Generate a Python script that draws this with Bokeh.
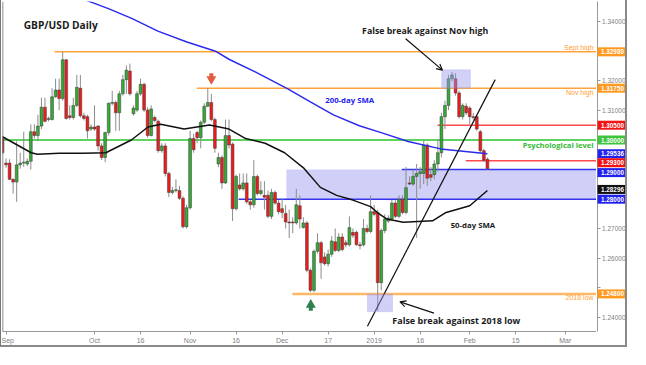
from bokeh.plotting import figure
from bokeh.layouts import row
from bokeh.models import (ColumnDataSource, Label, Span, Arrow, OpenHead, FixedTicker,
                          BoxAnnotation, Range1d, PrintfTickFormatter)
from bokeh.core.properties import value
from bokeh.embed import file_html
from bokeh.resources import INLINE

# ---------------- data (GBP/USD daily candles) ----------------
opens = [1.3005, 1.2922, 1.2922, 1.2867, 1.2858, 1.2916, 1.2922, 1.2919, 1.2928, 1.3028,
         1.3015, 1.3047, 1.3111, 1.3069, 1.3069, 1.3146, 1.3169, 1.3140, 1.3271, 1.3082,
         1.3076, 1.3117, 1.3175, 1.3082, 1.3079, 1.3037, 1.3044, 1.3047, 1.2980, 1.2941,
         1.3025, 1.3124, 1.3127, 1.3092, 1.3156, 1.3204, 1.3233, 1.3089, 1.3101, 1.3156,
         1.3188, 1.3101, 1.3015, 1.3076, 1.3063, 1.2964, 1.2980, 1.2887, 1.2823, 1.2829,
         1.2829, 1.2803, 1.2707, 1.2771, 1.3005, 1.3025, 1.3008, 1.3060, 1.3114, 1.3127,
         1.3069, 1.2919, 1.2941, 1.2855, 1.3015, 1.2986, 1.2768, 1.2848, 1.2835, 1.2855,
         1.2791, 1.2781, 1.2877, 1.2819, 1.2813, 1.2813, 1.2742, 1.2823, 1.2787, 1.2768,
         1.2752, 1.2723, 1.2723, 1.2720, 1.2778, 1.2704, 1.2720, 1.2560, 1.2492, 1.2624,
         1.2653, 1.2605, 1.2582, 1.2614, 1.2656, 1.2627, 1.2672, 1.2653, 1.2646, 1.2688,
         1.2688, 1.2646, 1.2646, 1.2701, 1.2691, 1.2758, 1.2755, 1.2518, 1.2694, 1.2726,
         1.2733, 1.2787, 1.2742, 1.2800, 1.2755, 1.2855, 1.2851, 1.2877, 1.2887, 1.2887,
         1.2983, 1.2883, 1.2883, 1.2919, 1.2957, 1.3079, 1.3117, 1.3207, 1.3207, 1.3159,
         1.3079, 1.3114, 1.3108, 1.3079, 1.3079, 1.3028, 1.2964, 1.2935]
highs = [1.3015, 1.2938, 1.2935, 1.2871, 1.2996, 1.2957, 1.3028, 1.2938, 1.3053, 1.3053,
         1.3085, 1.3143, 1.3143, 1.3079, 1.3175, 1.3207, 1.3207, 1.3298, 1.3274, 1.3117,
         1.3143, 1.3220, 1.3220, 1.3092, 1.3085, 1.3053, 1.3117, 1.3050, 1.2989, 1.3028,
         1.3127, 1.3166, 1.3133, 1.3166, 1.3220, 1.3252, 1.3258, 1.3117, 1.3166, 1.3207,
         1.3194, 1.3111, 1.3117, 1.3082, 1.3069, 1.2989, 1.2989, 1.2893, 1.2842, 1.2867,
         1.2845, 1.2810, 1.2781, 1.3031, 1.3021, 1.3031, 1.3066, 1.3124, 1.3175, 1.3156,
         1.3076, 1.2957, 1.2948, 1.3069, 1.3069, 1.2992, 1.2883, 1.2887, 1.2887, 1.2887,
         1.2797, 1.2932, 1.2883, 1.2861, 1.2861, 1.2829, 1.2835, 1.2829, 1.2797, 1.2803,
         1.2781, 1.2765, 1.2739, 1.2835, 1.2813, 1.2739, 1.2726, 1.2566, 1.2630, 1.2685,
         1.2659, 1.2621, 1.2630, 1.2675, 1.2701, 1.2685, 1.2685, 1.2662, 1.2742, 1.2701,
         1.2694, 1.2656, 1.2733, 1.2714, 1.2813, 1.2781, 1.2765, 1.2701, 1.2749, 1.2746,
         1.2797, 1.2797, 1.2813, 1.2813, 1.2909, 1.2877, 1.2900, 1.2919, 1.2909, 1.2999,
         1.2989, 1.2909, 1.2932, 1.3002, 1.3092, 1.3133, 1.3220, 1.3230, 1.3226, 1.3166,
         1.3124, 1.3124, 1.3114, 1.3092, 1.3085, 1.3034, 1.2970, 1.2941]
lows = [1.2951, 1.2906, 1.2864, 1.2819, 1.2791, 1.2903, 1.2909, 1.2912, 1.2900, 1.3005,
        1.2996, 1.3037, 1.3060, 1.3063, 1.3066, 1.3143, 1.3101, 1.3133, 1.3069, 1.3069,
        1.3069, 1.3111, 1.3076, 1.3066, 1.3005, 1.3031, 1.3031, 1.2964, 1.2932, 1.2925,
        1.3015, 1.3117, 1.3031, 1.3031, 1.3150, 1.3156, 1.3150, 1.3082, 1.3095, 1.3150,
        1.3095, 1.3008, 1.3012, 1.3060, 1.2957, 1.2957, 1.2877, 1.2807, 1.2816, 1.2823,
        1.2797, 1.2701, 1.2701, 1.2765, 1.2957, 1.2989, 1.2972, 1.3053, 1.3111, 1.3063,
        1.2957, 1.2909, 1.2835, 1.2851, 1.2972, 1.2726, 1.2762, 1.2829, 1.2829, 1.2784,
        1.2765, 1.2771, 1.2813, 1.2813, 1.2765, 1.2736, 1.2733, 1.2781, 1.2749, 1.2736,
        1.2701, 1.2669, 1.2685, 1.2714, 1.2701, 1.2701, 1.2553, 1.2486, 1.2486, 1.2617,
        1.2531, 1.2576, 1.2573, 1.2605, 1.2621, 1.2621, 1.2624, 1.2637, 1.2640, 1.2669,
        1.2643, 1.2630, 1.2640, 1.2685, 1.2685, 1.2742, 1.2422, 1.2492, 1.2685, 1.2720,
        1.2726, 1.2736, 1.2736, 1.2749, 1.2749, 1.2848, 1.2845, 1.2669, 1.2835, 1.2851,
        1.2845, 1.2861, 1.2867, 1.2893, 1.2941, 1.3037, 1.3101, 1.3198, 1.3150, 1.3073,
        1.3069, 1.3085, 1.3053, 1.3069, 1.3031, 1.2957, 1.2925, 1.2900]
closes = [1.2957, 1.2916, 1.2867, 1.2858, 1.2916, 1.2922, 1.2925, 1.2928, 1.3028, 1.3015,
          1.3047, 1.3111, 1.3063, 1.3073, 1.3146, 1.3169, 1.3140, 1.3271, 1.3073, 1.3076,
          1.3117, 1.3178, 1.3082, 1.3073, 1.3031, 1.3044, 1.3037, 1.2980, 1.2941, 1.3025,
          1.3124, 1.3127, 1.3092, 1.3156, 1.3204, 1.3236, 1.3156, 1.3108, 1.3156, 1.3188,
          1.3101, 1.3015, 1.3105, 1.3066, 1.2964, 1.2980, 1.2887, 1.2823, 1.2829, 1.2832,
          1.2803, 1.2707, 1.2771, 1.3005, 1.2967, 1.3008, 1.3060, 1.3114, 1.3127, 1.3069,
          1.2972, 1.2941, 1.2855, 1.3015, 1.2983, 1.2768, 1.2877, 1.2835, 1.2855, 1.2791,
          1.2781, 1.2877, 1.2819, 1.2829, 1.2807, 1.2742, 1.2823, 1.2787, 1.2758, 1.2755,
          1.2723, 1.2720, 1.2720, 1.2781, 1.2733, 1.2720, 1.2560, 1.2492, 1.2624, 1.2653,
          1.2585, 1.2582, 1.2614, 1.2659, 1.2627, 1.2672, 1.2630, 1.2646, 1.2704, 1.2678,
          1.2646, 1.2643, 1.2701, 1.2691, 1.2758, 1.2749, 1.2518, 1.2694, 1.2733, 1.2736,
          1.2787, 1.2742, 1.2800, 1.2755, 1.2839, 1.2851, 1.2877, 1.2887, 1.2893, 1.2983,
          1.2871, 1.2874, 1.2919, 1.2957, 1.3079, 1.3117, 1.3207, 1.3220, 1.3159, 1.3079,
          1.3117, 1.3092, 1.3079, 1.3076, 1.3037, 1.2964, 1.2932, 1.2903]

sma200_idx = [20, 24.1, 30.1, 36.5, 43.9, 52.1, 60.4, 64.1, 71.4, 80.6, 87.1, 93.5,
              100.8, 107.2, 114.6, 123.8, 137]
sma200_val = [1.3490, 1.3470, 1.3443, 1.3411, 1.3368, 1.3331, 1.3299, 1.3272, 1.3230,
              1.3173, 1.3128, 1.3085, 1.3048, 1.3024, 1.2995, 1.2970, 1.29536]
sma50_idx = [0, 8.1, 9.9, 16.0, 22.7, 29.2, 36.4, 41.1, 44.7, 51.3, 58.5, 64.0, 68.7,
             74.2, 79.7, 85.2, 89.8, 94.4, 99.0, 104.0, 105.9, 108.6, 113.2, 121.5,
             125.1, 132.0, 137]
sma50_val = [1.3011, 1.2957, 1.2952, 1.2955, 1.2955, 1.2957, 1.3000, 1.3044, 1.3053,
             1.3037, 1.3051, 1.3037, 1.3005, 1.2989, 1.2957, 1.2904, 1.2840, 1.2813,
             1.2797, 1.2775, 1.2755, 1.2733, 1.2722, 1.2727, 1.2754, 1.2778, 1.28296]

trend_idx = [103.1, 139.2]
trend_val = [1.2371, 1.3204]

level_prices = [1.32980, 1.31750, 1.30500, 1.30000, 1.29536, 1.29300, 1.29000, 1.28296, 1.28000, 1.24800]
level_colors = ["#ff9a1f", "#ff9a1f", "#f21414", "#3ec43e", "#2222ee", "#f21414", "#2222ee", "#111111", "#2222ee", "#ff9a1f"]

x_tick_idx = [1, 26, 39, 53, 66, 79, 92, 105, 118, 132, 145, 159]
x_tick_labels = ["Sep", "Oct", "16", "Nov", "16", "Dec", "17", "2019", "16", "Feb", "15", "Mar"]
y_ticks = [1.24, 1.25, 1.26, 1.27, 1.28, 1.29, 1.30, 1.31, 1.32, 1.33, 1.34]
y_hidden = [1.25, 1.28, 1.29, 1.30, 1.33]   # tick labels covered by the level boxes

X_END = 168.1
Y_LO, Y_HI = 1.2353, 1.3468
FRAME_H = 330
yr = Range1d(Y_LO, Y_HI)

# ---------------- main chart ----------------
p = figure(width=596, height=FRAME_H + 17, x_range=Range1d(0, X_END), y_range=yr,
           output_backend="svg", toolbar_location=None, y_axis_location=None,
           min_border_left=1, min_border_top=1, min_border_right=0, min_border_bottom=16,
           background_fill_color="white", border_fill_color="white", outline_line_color=None,
           styles={"border-left": "1px solid #777777", "border-bottom": "2px solid #8a8a8a"})
p.grid.visible = False

p.xaxis.ticker = FixedTicker(ticks=x_tick_idx)
p.xaxis.major_label_overrides = {t: s for t, s in zip(x_tick_idx, x_tick_labels)}
p.xaxis.major_label_text_font = "Liberation Sans"
p.xaxis.major_label_text_font_size = "7px"
p.xaxis.major_label_text_color = "#808080"
p.xaxis.axis_line_color = "#999999"
p.xaxis.major_tick_line_color = "#999999"
p.xaxis.major_tick_out = 3
p.xaxis.major_tick_in = 0
p.xaxis.minor_tick_line_color = None
p.xaxis.major_label_standoff = 2

p.add_layout(Span(location=0, dimension="height", line_color="#666666", line_width=1.5))

p.add_layout(BoxAnnotation(left=80.2, bottom=1.28, top=1.29, fill_color="#cfcff8", fill_alpha=1.0,
                           line_color=None, level="underlay"))

seg_x0 = [14.7, 54.9, 122.9, 0, 130.9, 112.8, 66.7, 81.9]
seg_y = [1.32980, 1.31750, 1.30500, 1.30000, 1.29300, 1.29000, 1.28000, 1.24800]
seg_col = ["#ffa33a", "#ffa33a", "#ff4a4a", "#5fd35f", "#ff4a4a", "#3535f0", "#3535f0", "#ffb866"]
seg_w = [1.4, 1.4, 1.5, 2.0, 1.5, 1.5, 1.5, 2.5]
p.segment(x0=seg_x0, y0=seg_y, x1=[X_END] * len(seg_y), y1=seg_y, line_color=seg_col, line_width=seg_w)

idx = list(range(len(opens)))
up = [c >= o for o, c in zip(opens, closes)]
src = ColumnDataSource(dict(
    x=idx, high=highs, low=lows,
    top=[max(o, c) for o, c in zip(opens, closes)],
    bottom=[min(o, c) for o, c in zip(opens, closes)],
    color=["#36a936" if u else "#ec1c1c" for u in up]))
p.segment(x0="x", y0="low", x1="x", y1="high", source=src, line_color="#8c8c8c", line_width=1)
p.vbar(x="x", width=0.8, top="top", bottom="bottom", source=src, fill_color="color",
       line_color="#3a3a3a", line_width=0.5)

p.line(sma200_idx, sma200_val, line_color="#2b2bee", line_width=1.5)
p.line(sma50_idx, sma50_val, line_color="#111111", line_width=1.5)
p.line(trend_idx, trend_val, line_color="#111111", line_width=1.2)

p.add_layout(BoxAnnotation(left=124.1, right=132.2, bottom=1.3175, top=1.3237,
                           fill_color="#9a9aee", fill_alpha=0.45, line_color="#a8a8ee", line_width=1))
p.add_layout(BoxAnnotation(left=103.1, right=110.2, bottom=1.2420, top=1.2480,
                           fill_color="#9a9aee", fill_alpha=0.45, line_color="#a8a8ee", line_width=1))

p.add_layout(Arrow(end=OpenHead(size=6, line_width=1.2, line_color="#111111"),
                   x_start=113.9, y_start=1.3342, x_end=124.3, y_end=1.3236,
                   line_color="#111111", line_width=1.2))
p.add_layout(Arrow(end=OpenHead(size=6, line_width=1.2, line_color="#111111"),
                   x_start=121.9, y_start=1.2415, x_end=112.3, y_end=1.2453,
                   line_color="#111111", line_width=1.2))

p.rect(x=[59.0], y=[1.3219], width=4, height=4, width_units="screen", height_units="screen",
       fill_color="#e35b3f", line_color=None)
p.scatter(x=[59.0], y=[1.3206], marker="inverted_triangle", size=10, fill_color="#e35b3f", line_color=None)
p.rect(x=[87.1], y=[1.2430], width=4, height=4, width_units="screen", height_units="screen",
       fill_color="#2d8050", line_color=None)
p.scatter(x=[87.1], y=[1.2443], marker="triangle", size=10, fill_color="#2d8050", line_color=None)

def lab(x, y, text, color, size, bold=True, align="left", font="Open Sans"):
    p.add_layout(Label(x=x, y=y, text=text, text_color=color, text_font=font,
                       text_font_size=size, text_font_style="bold" if bold else "normal",
                       text_align=align, text_baseline="middle"))

lab(6.0, 1.3388, "GBP/USD Daily", "#1a1a1a", "10.2px")
lab(119.4, 1.3367, "False break against Nov high", "#1a1a1a", "8.8px", align="center")
lab(128.2, 1.2391, "False break against 2018 low", "#1a1a1a", "9px", align="center")
lab(98.1, 1.3134, "200-day SMA", "#2222ee", "7.8px", align="center")
lab(167.0, 1.2984, "Psychological level", "#33bb33", "7.6px", align="right")
lab(132.9, 1.2714, "50-day SMA", "#1a1a1a", "7.8px", align="center")
lab(167.0, 1.3313, "Sept high", "#ffa033", "7px", bold=False, align="right", font="Liberation Sans")
lab(167.0, 1.3160, "Nov high", "#ffa033", "7px", bold=False, align="right", font="Liberation Sans")
lab(167.0, 1.2467, "2018 low", "#ffa033", "7px", bold=False, align="right", font="Liberation Sans")

# ---------------- price column (y axis + level boxes) ----------------
q = figure(width=31, height=FRAME_H + 17, x_range=Range1d(0, 1), y_range=yr,
           output_backend="svg", toolbar_location=None, x_axis_location=None,
           y_axis_location="left",
           min_border_left=1, min_border_top=1, min_border_right=0, min_border_bottom=16,
           background_fill_color="white", border_fill_color="white", outline_line_color=None,
           styles={"border-right": "2px solid #8a8a8a", "border-bottom": "2px solid #8a8a8a"})
q.grid.visible = False
q.yaxis.ticker = FixedTicker(ticks=y_ticks)
q.yaxis.formatter = PrintfTickFormatter(format="%.5f")
q.yaxis.major_label_overrides = {t: "" for t in y_hidden}
q.yaxis.major_label_text_font = "Liberation Sans"
q.yaxis.major_label_text_font_size = "6.5px"
q.yaxis.major_label_text_color = "#808080"
q.yaxis.axis_line_color = "#999999"
q.yaxis.major_tick_line_color = "#999999"
q.yaxis.major_tick_out = 0
q.yaxis.major_tick_in = 3
q.yaxis.minor_tick_line_color = None
q.yaxis.major_label_standoff = -28

px = (Y_HI - Y_LO) / FRAME_H
level_offsets = [0, 0, 0, 0, 0, -2, -3, 1, 0, 0]
box_y = [pr + off * px for pr, off in zip(level_prices, level_offsets)]
q.rect(x=[0.5] * len(box_y), y=box_y, width=[1.0] * len(box_y), height=9, height_units="screen",
       fill_color=level_colors, line_color=None, level="overlay")
q.text(x=[0.5] * len(box_y), y=box_y, text=[f"{v:.5f}" for v in level_prices],
       text_font=value("Liberation Sans"), text_font_size=value("6.3px"), text_font_style="bold",
       text_color="white", text_align="center", text_baseline="middle", level="overlay")

layout = row(p, q)
open("out.html", "w").write(file_html(layout, INLINE))
